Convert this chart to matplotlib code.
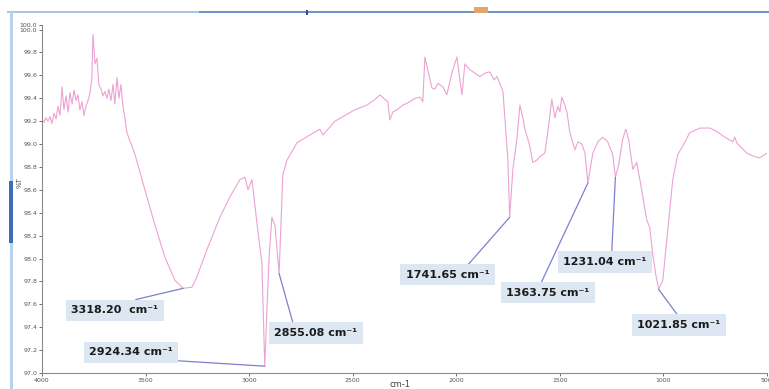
import matplotlib
matplotlib.use('Agg')
import matplotlib.pyplot as plt
from matplotlib.patches import Rectangle
import numpy as np

# FTIR spectrum, wavenumber (cm-1) vs transmittance (%T)
wavenumber = [
    4000, 3990, 3981, 3971, 3961, 3952, 3942, 3932, 3923, 3913,
    3903, 3894, 3884, 3874, 3865, 3855, 3845, 3836, 3826, 3817,
    3807, 3797, 3788, 3778, 3768, 3759, 3754, 3744, 3735, 3725,
    3715, 3706, 3696, 3686, 3677, 3667, 3657, 3648, 3638, 3628,
    3619, 3609, 3599, 3590, 3551, 3503, 3454, 3406, 3358, 3318.2,
    3276, 3252, 3203, 3141, 3092, 3044, 3020, 3005, 2986, 2962,
    2938, 2924.34, 2904, 2890, 2875, 2855.08, 2837, 2817, 2769, 2706,
    2658, 2643, 2585, 2547, 2489, 2431, 2392, 2368, 2344, 2330,
    2320, 2306, 2286, 2257, 2223, 2199, 2175, 2161, 2151, 2137,
    2117, 2103, 2088, 2064, 2045, 2021, 1996, 1982, 1972, 1958,
    1934, 1910, 1885, 1861, 1837, 1817, 1803, 1789, 1774, 1750,
    1741.65, 1726, 1707, 1692, 1678, 1668, 1644, 1630, 1610, 1596,
    1572, 1557, 1547, 1538, 1523, 1509, 1499, 1490, 1475, 1465,
    1451, 1427, 1412, 1393, 1378, 1363.75, 1340, 1316, 1292, 1268,
    1244, 1231.04, 1215, 1196, 1181, 1167, 1147, 1128, 1104, 1080,
    1065, 1050, 1036, 1021.85, 1002, 978, 954, 930, 906, 872,
    823, 775, 741, 703, 664, 654, 645, 596, 558, 534, 500,
]
transmittance = [
    99.21, 99.19, 99.23, 99.20, 99.24, 99.18, 99.27, 99.22, 99.33, 99.25,
    99.50, 99.30, 99.42, 99.28, 99.45, 99.35, 99.47, 99.38, 99.43, 99.30,
    99.37, 99.25, 99.33, 99.38, 99.45, 99.58, 99.96, 99.70, 99.75, 99.52,
    99.48, 99.42, 99.46, 99.40, 99.48, 99.38, 99.52, 99.35, 99.58, 99.40,
    99.52, 99.33, 99.22, 99.10, 98.91, 98.60, 98.29, 98.01, 97.81, 97.74,
    97.75, 97.84, 98.08, 98.36, 98.54, 98.69, 98.71, 98.60, 98.69, 98.31,
    97.96, 97.06, 97.99, 98.36, 98.29, 97.87, 98.73, 98.86, 99.01, 99.08,
    99.13, 99.08, 99.20, 99.24, 99.30, 99.34, 99.39, 99.43, 99.39, 99.37,
    99.21, 99.28, 99.30, 99.34, 99.37, 99.40, 99.41, 99.37, 99.76, 99.65,
    99.49, 99.48, 99.53, 99.50, 99.43, 99.62, 99.76, 99.56, 99.43, 99.70,
    99.65, 99.62, 99.59, 99.62, 99.63, 99.56, 99.59, 99.53, 99.46, 98.86,
    98.36, 98.78, 99.04, 99.34, 99.23, 99.13, 98.98, 98.84, 98.86, 98.89,
    98.92, 99.11, 99.26, 99.39, 99.23, 99.33, 99.28, 99.41, 99.34, 99.28,
    99.10, 98.95, 99.02, 99.00, 98.92, 98.66, 98.92, 99.02, 99.06, 99.02,
    98.91, 98.71, 98.82, 99.04, 99.13, 99.04, 98.78, 98.84, 98.60, 98.34,
    98.27, 98.03, 97.86, 97.73, 97.81, 98.25, 98.69, 98.91, 98.98, 99.10,
    99.14, 99.14, 99.11, 99.06, 99.02, 99.06, 99.01, 98.92, 98.89, 98.88, 98.92,
]

# labelled bands and where their tags sit (wavenumber, %T)
peak_labels = ["3318.20  cm⁻¹", "2924.34 cm⁻¹", "2855.08 cm⁻¹", "1741.65 cm⁻¹",
               "1363.75 cm⁻¹", "1231.04 cm⁻¹", "1021.85 cm⁻¹"]
peak_wn = [3318.2, 2924.34, 2855.08, 1741.65, 1363.75, 1231.04, 1021.85]
tag_pos = [(3648, 97.55), (3570, 97.18), (2677, 97.35), (2040, 97.86),
           (1557, 97.70), (1282, 97.97), (925, 97.42)]
tag_anchor = [(0.47, 1), (0.42, 0), (0.24, 1), (0.69, 1),
              (0.39, 1), (0.58, 1), (0.53, 1)]

LINE = '#eba3d4'
LEADER = '#7d80cf'
BOX = '#dce7f1'

fig = plt.figure(figsize=(7.69, 3.89), dpi=100)
fig.patch.set_facecolor('white')

# window chrome around the plot
fig.patches.append(Rectangle((0.009, 0.966), 0.25, 0.006, transform=fig.transFigure,
                             facecolor='#a9c6ea', edgecolor='none'))
fig.patches.append(Rectangle((0.259, 0.967), 0.741, 0.006, transform=fig.transFigure,
                             facecolor='#6f93c9', edgecolor='none'))
fig.patches.append(Rectangle((0.617, 0.967), 0.017, 0.014, transform=fig.transFigure,
                             facecolor='#e4a46c', edgecolor='none'))
fig.patches.append(Rectangle((0.398, 0.962), 0.003, 0.012, transform=fig.transFigure,
                             facecolor='#2d4f8f', edgecolor='none'))
fig.patches.append(Rectangle((0.013, 0.0), 0.004, 0.97, transform=fig.transFigure,
                             facecolor='#b9d2ee', edgecolor='none'))
fig.patches.append(Rectangle((0.012, 0.375), 0.005, 0.16, transform=fig.transFigure,
                             facecolor='#3f6db5', edgecolor='none'))

ax = fig.add_axes([0.0546, 0.041, 0.9425, 0.8947])
ax.plot(wavenumber, transmittance, color=LINE, linewidth=0.8)

for text, wn, (tx, ty), rel in zip(peak_labels, peak_wn, tag_pos, tag_anchor):
    t = transmittance[wavenumber.index(wn)]
    ax.annotate(text, xy=(wn, t), xytext=(tx, ty), textcoords='data',
                ha='center', va='center', fontsize=8, fontweight='bold',
                color='#1b1b1b',
                bbox=dict(boxstyle='square,pad=0.5', facecolor=BOX, edgecolor='none'),
                arrowprops=dict(arrowstyle='-', color=LEADER, lw=0.9,
                                relpos=rel, shrinkA=0, shrinkB=0))

ax.set_xlim(4000, 500)
ax.set_ylim(97.0, 100.04)
ax.set_xticks([4000, 3500, 3000, 2500, 2000, 1500, 1000, 500])
yt = list(np.round(np.arange(97.0, 100.01, 0.2), 1)) + [100.04]
ax.set_yticks(yt)
ax.set_yticklabels([f"{v:.1f}" for v in yt])
ax.tick_params(axis='both', labelsize=4.5, colors='#555555', length=2, width=0.6,
               pad=1.5)
for side in ('top', 'right'):
    ax.spines[side].set_visible(False)
for side in ('left', 'bottom'):
    ax.spines[side].set_color('#8a8a8a')
    ax.spines[side].set_linewidth(0.8)

fig.text(0.026, 0.53, '%T', rotation=90, fontsize=5, color='#555555',
         ha='center', va='center')
fig.text(0.52, 0.0, 'cm-1', fontsize=6, color='#444444', ha='center', va='bottom')

fig.savefig('out.png', dpi=100, facecolor='white')
